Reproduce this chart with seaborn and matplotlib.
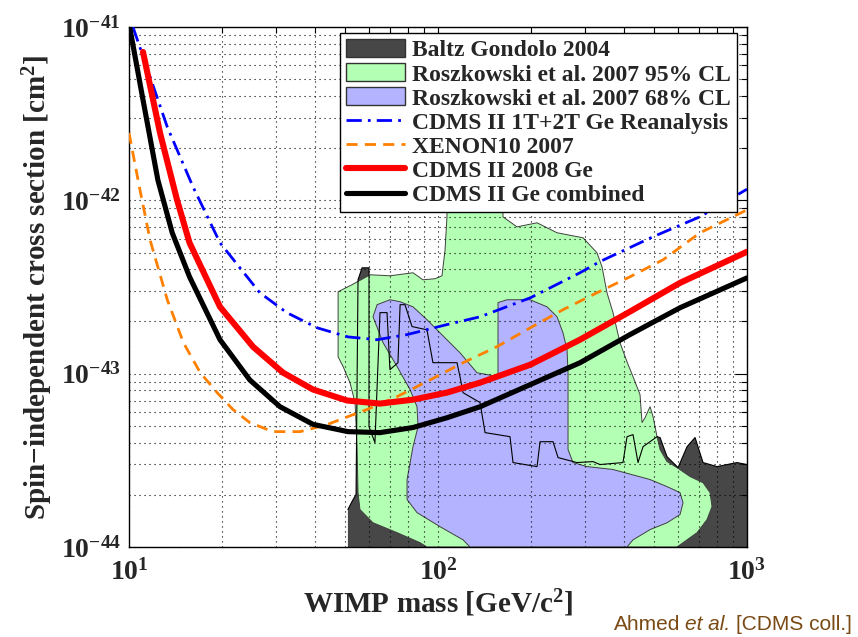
import numpy as np
import pandas as pd
import matplotlib
matplotlib.use("Agg")
import matplotlib.pyplot as plt
import seaborn as sns
from matplotlib.patches import Patch
from matplotlib.lines import Line2D
from matplotlib.ticker import LogLocator, NullFormatter

# ---------------- data ----------------
# CDMS II Ge combined (black)
comb_mass = [10.05, 11.1, 12.4, 13.8, 15.7, 19.7, 24.6, 30.8, 39.4, 51.1, 64.9, 83.0,
             107, 137, 199, 288, 418, 607, 1000]
comb_sigma = [1.0e-41, 3.8e-42, 1.31e-42, 6.5e-43, 3.62e-43, 1.57e-43, 9.2e-44, 6.45e-44,
              5.1e-44, 4.63e-44, 4.57e-44, 4.89e-44, 5.57e-44, 6.45e-44, 8.65e-44,
              1.156e-43, 1.68e-43, 2.40e-43, 3.57e-43]
# CDMS II 2008 Ge (red)
c08_mass = [11.1, 12.6, 14.3, 15.7, 19.7, 25.2, 31.5, 39.4, 50.8, 64.9, 83.0, 107, 137,
            199, 288, 418, 607, 1000]
c08_sigma = [7.18e-42, 2.45e-42, 1.007e-42, 5.69e-43, 2.43e-43, 1.43e-43, 1.014e-43,
             8.1e-44, 7.0e-44, 6.72e-44, 7.08e-44, 7.78e-44, 8.88e-44, 1.127e-43,
             1.57e-43, 2.28e-43, 3.34e-43, 5.05e-43]
# CDMS II 1T+2T Ge Reanalysis (blue dash-dot)
rean_mass = [10.3, 13.3, 16.1, 19.7, 26.5, 32.4, 40.6, 51.1, 63.5, 79.4, 107, 137, 199,
             288, 334, 497, 705, 1000]
rean_sigma = [1.0e-41, 2.65e-42, 1.20e-42, 5.69e-43, 2.93e-43, 2.25e-43, 1.84e-43,
              1.63e-43, 1.57e-43, 1.68e-43, 1.92e-43, 2.13e-43, 2.74e-43, 3.82e-43,
              4.43e-43, 6.17e-43, 8.04e-43, 1.16e-42]
# XENON10 2007 (orange dashed)
xen_mass = [10.0, 10.85, 11.7, 13.3, 15.0, 17.0, 19.3, 21.7, 24.6, 29.2, 35.8, 43.7,
            51.1, 58.9, 73.6, 94.2, 120.5, 155, 199, 254, 327, 418, 535, 705, 1000]
xen_sigma = [2.45e-42, 1.15e-42, 5.91e-43, 2.67e-43, 1.51e-43, 1.014e-43, 7.76e-44,
             6.21e-44, 5.22e-44, 4.63e-44, 4.63e-44, 5.08e-44, 5.65e-44, 6.21e-44,
             7.36e-44, 9.2e-44, 1.156e-43, 1.43e-43, 1.84e-43, 2.34e-43, 2.93e-43,
             3.62e-43, 4.54e-43, 6.5e-43, 8.81e-43]

# Baltz Gondolo 2004 region (closed polygon)
bg_mass = [51.1, 51.1, 52.7, 54.3, 55.1, 56.8, 59.8, 59.8, 62.5, 64.9, 68.4, 69.9, 74.2,
           75.4, 78.2, 82.4, 92.1, 96.3, 115.2, 117.8, 120.5, 136.8, 142.0, 171.0, 174.9,
           209.2, 213.9, 235.7, 244.6, 281.8, 317.4, 334.4, 396.9, 409.0, 427.7, 443.9,
           460.8, 511.5, 523.1, 551.1, 598.2, 639.7, 679.0, 720.6, 799.8, 928.2, 1000, 1000]
bg_sigma = [1e-44, 1.645e-44, 1.83e-44, 2.01e-44, 3.48e-43, 4.08e-43, 4.08e-43, 4.95e-44,
            4.00e-44, 2.25e-43, 2.25e-43, 1.054e-43, 1.157e-43, 2.50e-43, 2.50e-43,
            1.87e-43, 1.79e-43, 1.157e-43, 1.157e-43, 9.61e-44, 7.77e-44, 6.81e-44,
            4.57e-44, 4.33e-44, 3.07e-44, 2.91e-44, 4.05e-44, 4.05e-44, 3.28e-44,
            3.07e-44, 3.11e-44, 2.99e-44, 3.07e-44, 4.33e-44, 4.45e-44, 3.07e-44,
            3.79e-44, 4.33e-44, 4.28e-44, 3.32e-44, 2.87e-44, 3.79e-44, 4.28e-44,
            3.07e-44, 2.91e-44, 3.07e-44, 2.99e-44, 1e-44]

# Roszkowski et al. 2007 95% CL region
r95_mass = [92.1, 87.4, 73.7, 61.6, 55.9, 55.1, 54.7, 53.9, 51.9, 49.3, 47.5, 47.5, 52.7,
            60.3, 69.9, 83.0, 89.4, 97.8, 103.0, 105.4, 106.9, 106.9, 162.3, 162.3, 180.2,
            209.2, 242.8, 294.7, 327.0, 339.4, 352.3, 368.4, 388.1, 409.0, 427.7, 450.6,
            457.4, 467.7, 485.6, 496.5, 511.5, 523.1, 551.1, 593.7, 654.1, 720.6, 759.3,
            770.5, 742.4, 689.2, 639.7, 593.7]
r95_sigma = [1e-44, 1.06e-44, 1.21e-44, 1.38e-44, 1.645e-44, 2.06e-44, 3.79e-44, 6.81e-44,
             8.87e-44, 1.10e-43, 1.25e-43, 2.97e-43, 3.26e-43, 3.72e-43, 3.67e-43,
             3.82e-43, 3.48e-43, 3.53e-43, 3.67e-43, 5.18e-43, 8.03e-43, 9.42e-43,
             9.42e-43, 8.03e-43, 7.03e-43, 7.42e-43, 6.50e-43, 6.08e-43, 4.98e-43,
             4.14e-43, 2.93e-43, 2.25e-43, 1.51e-43, 1.17e-43, 9.61e-44, 7.57e-44,
             5.22e-44, 5.57e-44, 6.45e-44, 5.65e-44, 4.33e-44, 3.65e-44, 3.11e-44,
             2.87e-44, 2.55e-44, 2.35e-44, 2.06e-44, 1.71e-44, 1.44e-44, 1.21e-44,
             1.10e-44, 1e-44]

# Roszkowski et al. 2007 68% CL region
r68_mass = [126.9, 120.5, 101.5, 85.5, 79.4, 79.4, 83.0, 86.2, 85.5, 81.2, 73.7, 66.4,
            61.6, 63.5, 69.9, 75.4, 83.0, 92.1, 101.5, 117.8, 133.7, 156.4, 156.4, 167.3,
            198.5, 225.4, 242.8, 253.8, 261.6, 263.5, 263.5, 273.5, 303.6, 368.4, 485.6,
            551.1, 607.2, 620.9, 607.2, 551.1, 485.6, 427.7, 409.0]
r68_sigma = [1e-44, 1.10e-44, 1.31e-44, 1.58e-44, 1.88e-44, 2.45e-44, 3.79e-44, 4.95e-44,
             6.45e-44, 8.09e-44, 1.10e-43, 1.51e-43, 2.13e-43, 2.50e-43, 2.67e-43,
             2.60e-43, 2.43e-43, 2.05e-43, 1.72e-43, 1.32e-43, 1.013e-43, 9.61e-44,
             2.57e-43, 2.67e-43, 2.67e-43, 2.43e-43, 2.13e-43, 1.72e-43, 1.375e-43,
             1.013e-43, 3.65e-44, 3.07e-44, 2.91e-44, 2.80e-44, 2.45e-44, 2.23e-44,
             2.06e-44, 1.80e-44, 1.54e-44, 1.38e-44, 1.26e-44, 1.10e-44, 1e-44]

legend_labels = ["Baltz Gondolo 2004", "Roszkowski et al. 2007 95% CL",
                 "Roszkowski et al. 2007 68% CL", "CDMS II 1T+2T Ge Reanalysis",
                 "XENON10 2007", "CDMS II 2008 Ge", "CDMS II Ge combined"]
x_ticks = [10, 100, 1000]
x_ticklabels = [r"$10^{1}$", r"$10^{2}$", r"$10^{3}$"]
y_ticks = [1e-44, 1e-43, 1e-42, 1e-41]
y_ticklabels = [r"$10^{-44}$", r"$10^{-43}$", r"$10^{-42}$", r"$10^{-41}$"]

# ---------------- style ----------------
sns.set_theme(style="white")
plt.rcParams["font.family"] = ["Liberation Serif", "DejaVu Serif"]
plt.rcParams["font.weight"] = "bold"
plt.rcParams["mathtext.fontset"] = "custom"
plt.rcParams["mathtext.rm"] = "Liberation Serif:bold"
plt.rcParams["mathtext.bf"] = "Liberation Serif:bold"
plt.rcParams["mathtext.it"] = "Liberation Serif:italic:bold"
plt.rcParams["mathtext.default"] = "rm"

c_grey = "#474747"
c_green = "#b3ffb3"
c_blue = "#b3b3ff"
c_orange = "#ff8000"

fig = plt.figure(figsize=(8.58, 6.37), dpi=100)
ax = fig.add_axes([129 / 858, 90 / 637, 618 / 858, 520 / 637])
ax.set_xscale("log")
ax.set_yscale("log")

# regions
ax.fill(bg_mass, bg_sigma, facecolor=c_grey, edgecolor="none", zorder=1.0)
ax.fill(r95_mass, r95_sigma, facecolor=c_green, edgecolor="#404040", lw=0.7, zorder=1.1)
ax.fill(r68_mass, r68_sigma, facecolor=c_blue, edgecolor="#404040", lw=0.7, zorder=1.2)
ax.plot(bg_mass[1:-1], bg_sigma[1:-1], color="black", lw=0.8, zorder=1.3)

# curves
sns.lineplot(x=rean_mass, y=rean_sigma, ax=ax, color="#0000ff", lw=2.0, sort=False,
             estimator=None, linestyle=(0, (5.5, 2.2, 1.0, 2.2)), zorder=3.0)
sns.lineplot(x=xen_mass, y=xen_sigma, ax=ax, color=c_orange, lw=2.0, sort=False,
             estimator=None, linestyle=(0, (4.0, 2.6)), zorder=3.1)
sns.lineplot(x=c08_mass, y=c08_sigma, ax=ax, color="#ff0000", lw=4.4, sort=False,
             estimator=None, zorder=3.2, solid_joinstyle="round")
sns.lineplot(x=comb_mass, y=comb_sigma, ax=ax, color="black", lw=3.7, sort=False,
             estimator=None, zorder=3.3, solid_joinstyle="round")

ax.set_xlim(10, 1000)
ax.set_ylim(1e-44, 1e-41)
ax.set_xticks(x_ticks)
ax.set_xticklabels(x_ticklabels)
ax.set_yticks(y_ticks)
ax.set_yticklabels(y_ticklabels)
ax.xaxis.set_minor_locator(LogLocator(base=10, subs=np.arange(2, 10)))
ax.yaxis.set_minor_locator(LogLocator(base=10, subs=np.arange(2, 10)))
ax.xaxis.set_minor_formatter(NullFormatter())
ax.yaxis.set_minor_formatter(NullFormatter())

ax.set_axisbelow(False)
ax.grid(which="both", color="black", linestyle=(0, (1, 3.5)), linewidth=0.8)
ax.tick_params(which="both", direction="in", top=True, right=True, color="black",
               width=0.8)
ax.tick_params(which="major", length=9, labelsize=20)
ax.tick_params(which="minor", length=4.5)
ax.tick_params(axis="x", which="major", pad=9)
ax.tick_params(axis="y", which="major", pad=6)
for sp in ax.spines.values():
    sp.set_color("black")
    sp.set_linewidth(1.0)

ax.set_xlabel(r"WIMP mass [GeV/c$^{2}$]", fontsize=21, fontweight="bold", labelpad=1)
ax.set_ylabel("Spin\u2212independent cross section [cm$^{2}$]", fontsize=21,
              fontweight="bold", labelpad=4)

handles = [
    Patch(facecolor=c_grey, edgecolor="#333333", lw=1.0),
    Patch(facecolor=c_green, edgecolor="#333333", lw=1.0),
    Patch(facecolor=c_blue, edgecolor="#333333", lw=1.0),
    Line2D([], [], color="#0000ff", lw=2.0, linestyle=(0, (5.5, 2.2, 1.0, 2.2))),
    Line2D([], [], color=c_orange, lw=2.0, linestyle=(0, (4.0, 2.6))),
    Line2D([], [], color="#ff0000", lw=4.4),
    Line2D([], [], color="black", lw=3.7),
]
leg = ax.legend(handles, legend_labels, loc="upper right", bbox_to_anchor=(0.984, 0.988),
                borderaxespad=0, fontsize=17, frameon=True, fancybox=False,
                framealpha=1, edgecolor="black", borderpad=0.25, labelspacing=0.08,
                handlelength=2.5, handleheight=0.8, handletextpad=0.3)
leg.get_frame().set_linewidth(1.0)
leg.set_zorder(10)

# credit line
brown = "#7a4a14"
renderer = fig.canvas.get_renderer()
credit_parts = [("Ahmed", "normal"), ("et al.", "italic"), ("[CDMS coll.]", "normal")]
xpos = 614
for txt, style in credit_parts:
    t = fig.text(xpos / 858, 7 / 637, txt, fontsize=15, color=brown,
                 family=["Liberation Sans", "DejaVu Sans"], fontweight="normal",
                 fontstyle=style, ha="left", va="baseline")
    bb = t.get_window_extent(renderer)
    xpos = bb.x1 + 5

fig.savefig("out.png", dpi=100)
